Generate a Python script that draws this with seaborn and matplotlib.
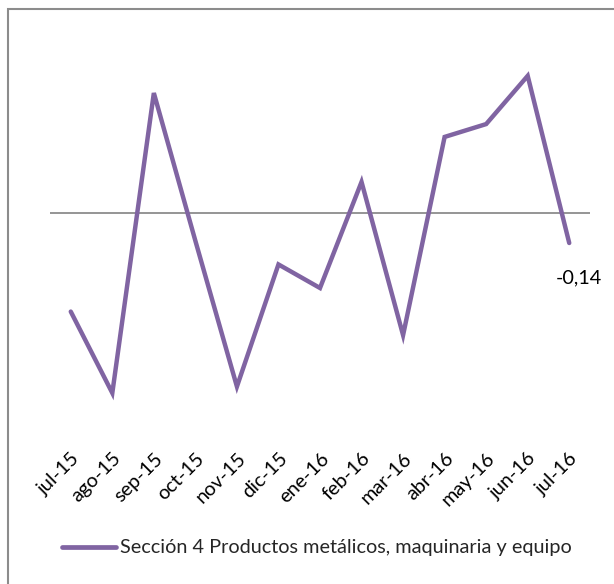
import matplotlib
matplotlib.use("Agg")
import matplotlib.pyplot as plt
import seaborn as sns
import pandas as pd
from matplotlib.patches import Rectangle

months = ["jul-15", "ago-15", "sep-15", "oct-15", "nov-15", "dic-15", "ene-16",
          "feb-16", "mar-16", "abr-16", "may-16", "jun-16", "jul-16"]
values = [-0.46, -0.84, 0.56, -0.13, -0.81, -0.24, -0.35,
          0.145, -0.57, 0.355, 0.415, 0.64, -0.14]
series_name = "Sección 4 Productos metálicos, maquinaria y equipo"
last_label = "-0,14"

sns.set_theme(style="white")
plt.rcParams['font.family'] = ['Lato', 'DejaVu Sans']

df = pd.DataFrame({"mes": months, "valor": values, "serie": series_name})

W, H = 614, 584
fig = plt.figure(figsize=(W / 100, H / 100), dpi=100)
ax = fig.add_axes([50 / W, 1 - 415 / H, 540 / W, 385 / H])

color = "#8064A2"
sns.lineplot(data=df, x="mes", y="valor", hue="serie", palette=[color],
             linewidth=3.2, ax=ax, sort=False, solid_capstyle="round",
             solid_joinstyle="miter")

ax.axhline(0, color="#8C8C8C", linewidth=1.3, zorder=0)
ax.set_xlim(-0.5, len(months) - 0.5)
ax.set_ylim(-0.9426, 0.854)
ax.set_yticks([])
ax.set_xlabel("")
ax.set_ylabel("")
for s in ax.spines.values():
    s.set_visible(False)
ax.tick_params(axis="x", length=0, pad=25)
plt.setp(ax.get_xticklabels(), rotation=45, ha="right", va="top",
         rotation_mode="anchor", fontsize=14.3, color="#000000")

ax.annotate(last_label, xy=(len(months) - 1, values[-1]), xytext=(7, -25),
            textcoords="offset points", ha="center", va="center",
            fontsize=14.3, color="#000000")

leg = ax.legend(loc="center", bbox_to_anchor=(317 / W, 1 - 548 / H),
                bbox_transform=fig.transFigure, frameon=False, fontsize=14.3,
                handlelength=2.75, handletextpad=0.2, borderaxespad=0)
for line in leg.get_lines():
    line.set_linewidth(3.4)

fig.patches.append(Rectangle((8 / W, -0.1), 1.2, 1 - 9 / H + 0.1,
                             transform=fig.transFigure, fill=False,
                             edgecolor="#8C8C8C", linewidth=1.5))

fig.savefig("out.png", dpi=100, facecolor="white")
